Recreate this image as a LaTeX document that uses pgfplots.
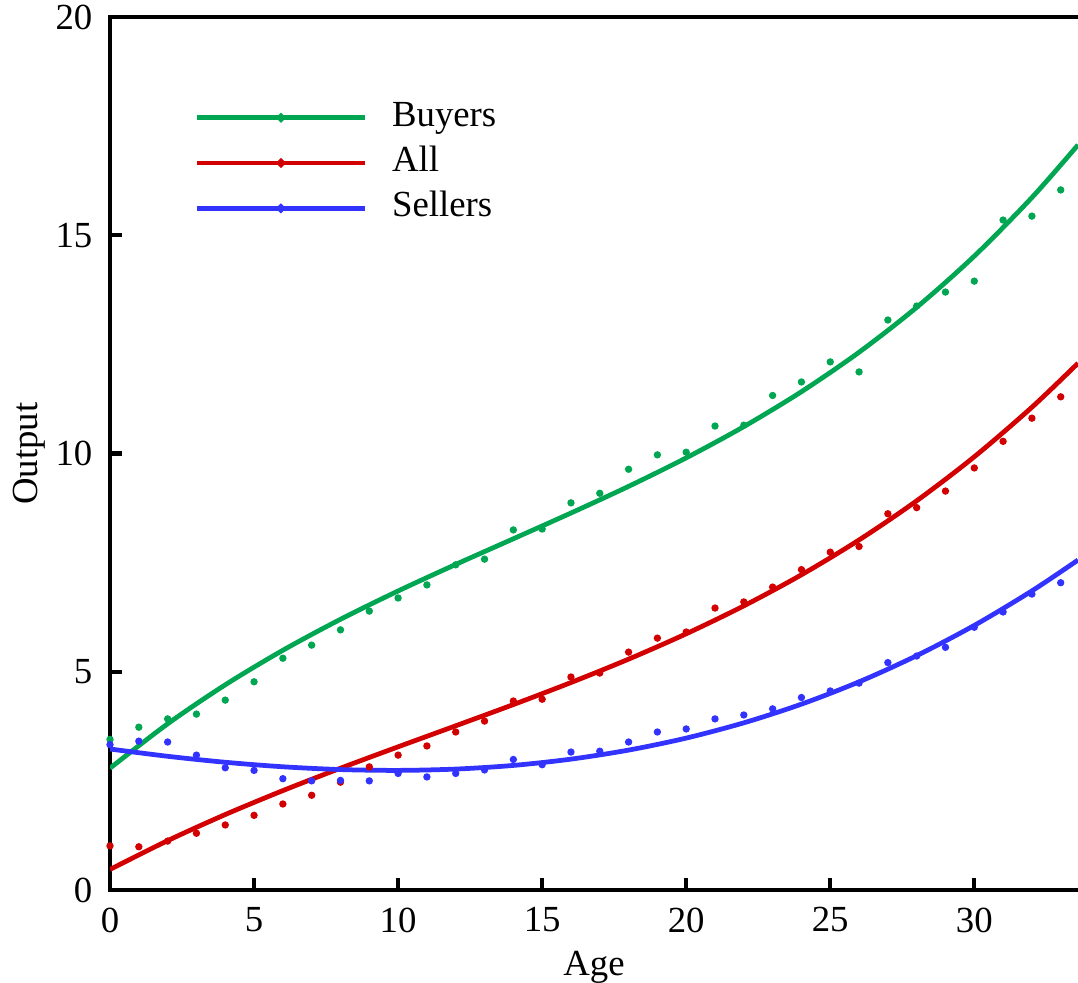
\documentclass[border=0pt]{standalone}
\usepackage{fontspec}
\setmainfont{Liberation Serif}
\usepackage{pgfplots}
\pgfplotsset{compat=1.18}
\definecolor{cg}{RGB}{0,166,81}
\definecolor{cr}{RGB}{210,0,0}
\definecolor{cb}{RGB}{51,51,255}
\begin{document}
\fontsize{11.6pt}{13.6pt}\selectfont
\begin{tikzpicture}
\begin{axis}[
  scale only axis,
  width=305.3pt, height=275.3pt,
  xmin=0, xmax=33.6, ymin=0, ymax=20,
  axis x line*=box, axis y line*=left,
  axis line style={line width=1.3pt, line cap=rect},
  xtick={0,5,...,30}, ytick={0,5,...,20},
  xtick pos=bottom, ytick pos=left,
  tick align=inside,
  major tick length=3.8pt,
  every tick/.style={black, line width=1.3pt},
  /pgf/number format/assume math mode=true,
  tick label style={font=\fontsize{11.6pt}{13.6pt}\selectfont},
  xticklabel style={yshift=-1.5pt},
  yticklabel style={xshift=-1.5pt},
  xlabel={Age}, ylabel={Output},
  label style={font=\fontsize{11.6pt}{13.6pt}\selectfont},
  xlabel style={at={(rel axis cs:0.5,0)}, anchor=center, yshift=-24.5pt},
  ylabel style={at={(rel axis cs:0,0.5)}, anchor=center, yshift=25.5pt},
  legend style={at={(rel axis cs:0.0867,0.906)}, anchor=north west, draw=none, fill=none,
    inner sep=0pt, row sep=3.0pt, column sep=7.8pt,
    nodes={inner sep=0pt, text height=8.3pt, text depth=3pt, font=\fontsize{11.6pt}{13.6pt}\selectfont}},
  legend cell align=left,
  legend image code/.code={\draw[#1, mark=none] (0pt,0pt) -- (53pt,0pt); \fill[#1] (26.5pt,0pt) circle (0.55pt);},
]
% Buyers dots
\addplot[only marks, mark=*, mark size=0.95pt, cg, forget plot] coordinates {
(0,3.45)(1,3.73)(2,3.92)(3,4.03)(4,4.35)(5,4.77)(6,5.31)(7,5.61)(8,5.96)(9,6.39)
(10,6.69)(11,6.99)(12,7.45)(13,7.58)(14,8.25)(15,8.27)(16,8.87)(17,9.09)(18,9.64)(19,9.97)
(20,10.03)(21,10.63)(22,10.65)(23,11.33)(24,11.64)(25,12.10)(26,11.87)(27,13.06)(28,13.38)(29,13.70)
(30,13.95)(31,15.35)(32,15.44)(33,16.04)};
% All dots
\addplot[only marks, mark=*, mark size=0.95pt, cr, forget plot] coordinates {
(0,1.01)(1,0.99)(2,1.12)(3,1.30)(4,1.49)(5,1.71)(6,1.97)(7,2.17)(8,2.47)(9,2.82)
(10,3.09)(11,3.30)(12,3.62)(13,3.87)(14,4.33)(15,4.37)(16,4.88)(17,4.97)(18,5.45)(19,5.77)
(20,5.91)(21,6.46)(22,6.60)(23,6.94)(24,7.34)(25,7.74)(26,7.87)(27,8.62)(28,8.76)(29,9.14)
(30,9.67)(31,10.28)(32,10.81)(33,11.30)};
% Sellers dots
\addplot[only marks, mark=*, mark size=0.95pt, cb, forget plot] coordinates {
(0,3.33)(1,3.41)(2,3.39)(3,3.09)(4,2.80)(5,2.74)(6,2.55)(7,2.50)(8,2.51)(9,2.50)
(10,2.67)(11,2.59)(12,2.67)(13,2.75)(14,2.99)(15,2.87)(16,3.16)(17,3.18)(18,3.39)(19,3.62)
(20,3.69)(21,3.92)(22,4.01)(23,4.15)(24,4.41)(25,4.56)(26,4.74)(27,5.21)(28,5.36)(29,5.56)
(30,6.02)(31,6.37)(32,6.78)(33,7.04)};
% Buyers fit
\addplot[cg, line width=1.5pt, smooth] coordinates {
(0,2.79)(2,3.807)(4,4.701)(6,5.492)(8,6.202)(10,6.851)(12,7.459)(14,8.047)(16,8.637)
(18,9.248)(20,9.901)(22,10.617)(24,11.417)(26,12.321)(28,13.350)(30,14.524)(32,15.866)(33.6,17.072)};
\addlegendentry{Buyers}
% All fit
\addplot[cr, line width=1.5pt, smooth] coordinates {
(0,0.47)(2,1.130)(4,1.728)(6,2.277)(8,2.790)(10,3.280)(12,3.762)(14,4.248)(16,4.753)
(18,5.289)(20,5.870)(22,6.510)(24,7.222)(26,8.020)(28,8.917)(30,9.926)(32,11.061)(33.6,12.070)};
\addlegendentry{All}
% Sellers fit
\addplot[cb, line width=1.5pt, smooth] coordinates {
(0,3.23)(2,3.063)(4,2.926)(6,2.823)(8,2.759)(10,2.740)(12,2.770)(14,2.854)(16,2.998)
(18,3.205)(20,3.480)(22,3.830)(24,4.258)(26,4.769)(28,5.369)(30,6.062)(32,6.853)(33.6,7.560)};
\addlegendentry{Sellers}
\end{axis}
\pgfresetboundingbox
\path[use as bounding box] ([xshift=-34.7pt,yshift=-29.3pt]current axis.south west) rectangle ([yshift=5.4pt]current axis.north east);
\end{tikzpicture}
\end{document}
